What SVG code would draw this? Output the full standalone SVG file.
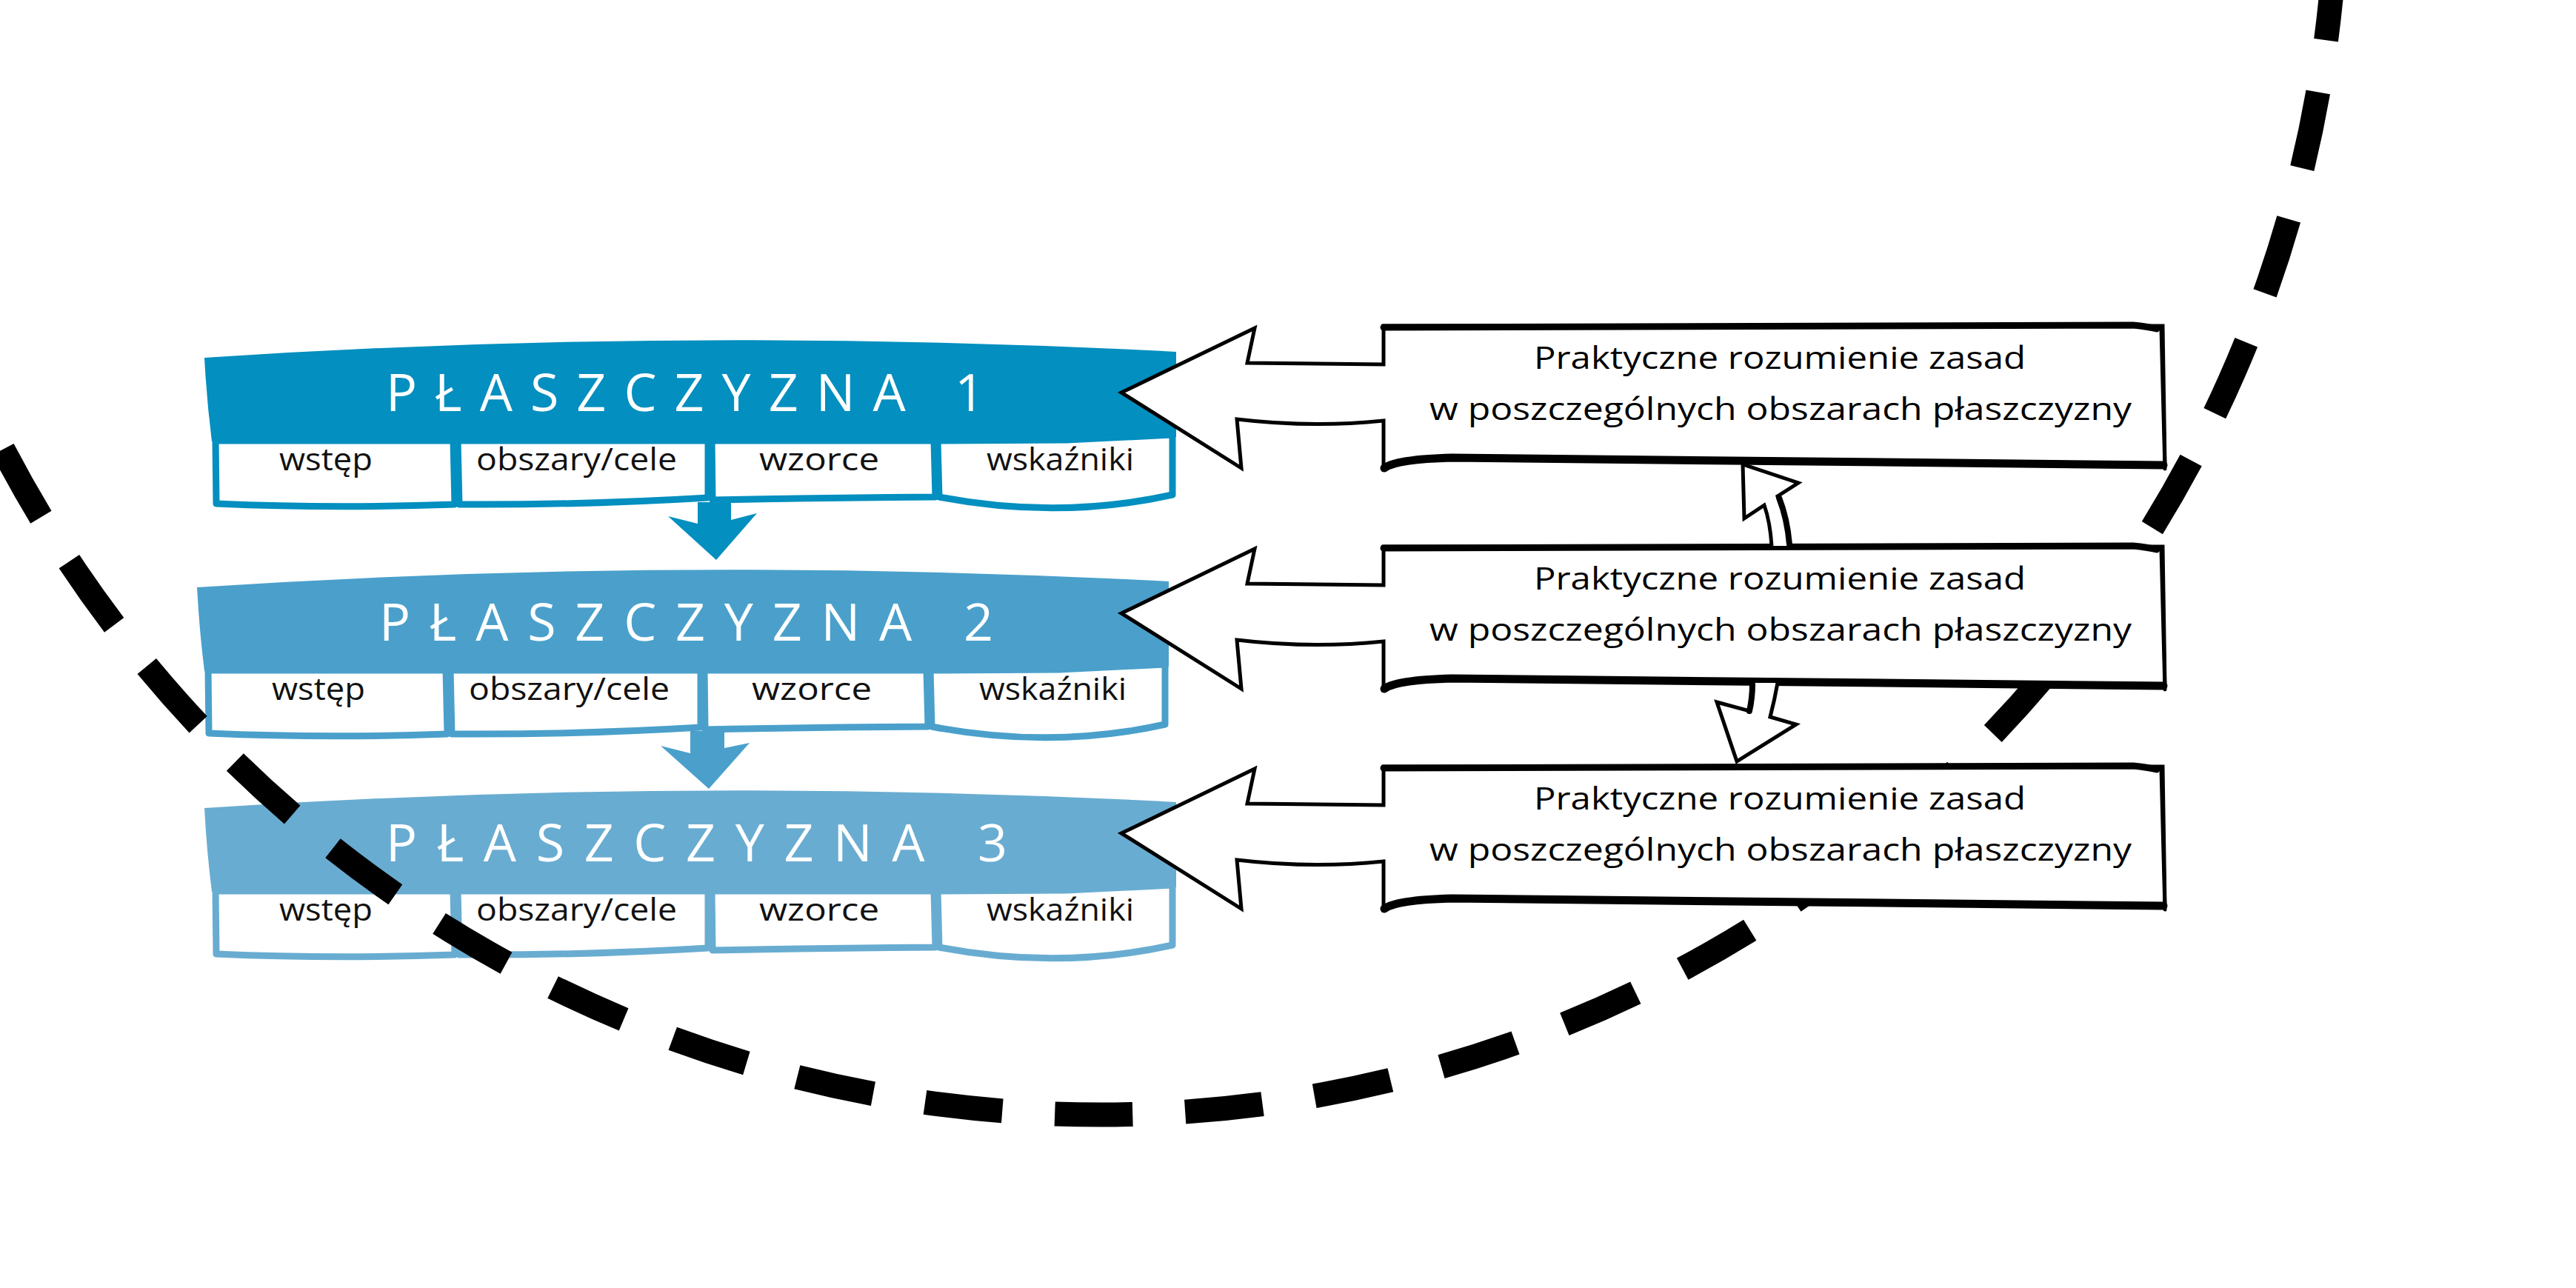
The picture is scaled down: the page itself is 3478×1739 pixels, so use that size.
<svg xmlns="http://www.w3.org/2000/svg" width="3478" height="1739" viewBox="0 0 3478 1739">
<style>
  .hdr-text{font-family:"Open Sans","Liberation Sans",sans-serif;font-size:70px;fill:#ffffff;}
  .tab-text{font-family:"Open Sans","Liberation Sans",sans-serif;font-size:42px;fill:#111111;text-anchor:start;}
  .tab{fill:#ffffff;stroke-width:9;stroke-linejoin:round;}
  .c1{fill:#038fbf;} .s1{stroke:#038fbf;}
  .c2{fill:#4aa0cb;} .s2{stroke:#4aa0cb;}
  .c3{fill:#69acd1;} .s3{stroke:#69acd1;}
  .callout{fill:#ffffff;stroke:#000000;stroke-width:5;stroke-linejoin:miter;}
  .heavy{fill:none;stroke:#000000;stroke-linecap:round;}
  .co-text{font-family:"Open Sans","Liberation Sans",sans-serif;font-size:42px;fill:#000000;}
  .cycle{fill:none;stroke:#000000;stroke-width:33;stroke-dasharray:105 71;stroke-dashoffset:132.7;}
  .outline-arrow{fill:#ffffff;stroke:#000000;stroke-width:5;stroke-linejoin:miter;}
</style>
<defs>
  <g id="tabs-shape">
    <path d="M291,595 L612,595 L614,681 Q450,687 292,680 Z"/>
    <path d="M618,595 L956,595 L956,672 Q790,682 620,681 Z"/>
    <path d="M961,595 L1261,595 L1263,671 Q1110,672 962,675 Z"/>
    <path d="M1266,595 L1440,594 L1583,587 L1583,668 Q1430,702 1268,671 Z"/>
  </g>
  <g id="callout-shape">
    <path class="callout" d="M1868,440 L2920,440 L2923,628 L1960,617 Q1885,619 1868,632 L1868,568 Q1770,578 1670,566 L1676,632 L1514,530 L1694,443 L1684,490 L1868,492 Z"/>
    <path class="heavy" stroke-width="9" d="M1868,442 L2880,439 Q2900,441 2912,444"/>
    <path class="heavy" stroke-width="11" d="M1869,632 Q1885,620 1960,618 L2921,628"/>
    <path class="heavy" stroke-width="5" d="M2918,443 L2923,633"/>
  </g>
</defs>

<!-- Panel 1 -->
<g id="panel1">
  <path class="c1" d="M276,483 Q930,440 1588,475 L1588,590 L1440,594 L286,596 Q279,540 276,483 Z"/>
  <use href="#tabs-shape" class="tab s1"/>
  <text class="hdr-text" x="521" y="555" textLength="808" lengthAdjust="spacing">PŁASZCZYZNA 1</text>
  <text class="tab-text" x="377" y="635" textLength="126" lengthAdjust="spacingAndGlyphs">wstęp</text>
  <text class="tab-text" x="643" y="635" textLength="271" lengthAdjust="spacingAndGlyphs">obszary/cele</text>
  <text class="tab-text" x="1025" y="635" textLength="162" lengthAdjust="spacingAndGlyphs">wzorce</text>
  <text class="tab-text" x="1332" y="635" textLength="199" lengthAdjust="spacingAndGlyphs">wskaźniki</text>
</g>

<!-- Panel 2 -->
<g id="panel2" transform="translate(-10,310)">
  <path class="c2" d="M276,483 Q930,440 1588,475 L1588,590 L1440,594 L286,596 Q279,540 276,483 Z"/>
  <use href="#tabs-shape" class="tab s2"/>
  <text class="hdr-text" x="522" y="555" textLength="829" lengthAdjust="spacing">PŁASZCZYZNA 2</text>
  <text class="tab-text" x="377" y="635" textLength="126" lengthAdjust="spacingAndGlyphs">wstęp</text>
  <text class="tab-text" x="643" y="635" textLength="271" lengthAdjust="spacingAndGlyphs">obszary/cele</text>
  <text class="tab-text" x="1025" y="635" textLength="162" lengthAdjust="spacingAndGlyphs">wzorce</text>
  <text class="tab-text" x="1332" y="635" textLength="199" lengthAdjust="spacingAndGlyphs">wskaźniki</text>
</g>

<!-- Panel 3 -->
<g id="panel3" transform="translate(0,608)">
  <path class="c3" d="M276,483 Q930,440 1588,475 L1588,590 L1440,594 L286,596 Q279,540 276,483 Z"/>
  <use href="#tabs-shape" class="tab s3"/>
  <text class="hdr-text" x="521" y="555" textLength="839" lengthAdjust="spacing">PŁASZCZYZNA 3</text>
  <text class="tab-text" x="377" y="635" textLength="126" lengthAdjust="spacingAndGlyphs">wstęp</text>
  <text class="tab-text" x="643" y="635" textLength="271" lengthAdjust="spacingAndGlyphs">obszary/cele</text>
  <text class="tab-text" x="1025" y="635" textLength="162" lengthAdjust="spacingAndGlyphs">wzorce</text>
  <text class="tab-text" x="1332" y="635" textLength="199" lengthAdjust="spacingAndGlyphs">wskaźniki</text>
</g>

<!-- Dashed cycle arc -->
<g id="cycle">
  <path class="cycle" d="M-84.3,406.2 A1670,1670 0 0 0 3155,-165"/>
</g>

<!-- Callout 1 -->
<g id="callout1">
  <use href="#callout-shape"/>
  <text class="co-text" x="2071" y="498" textLength="664" lengthAdjust="spacingAndGlyphs">Praktyczne rozumienie zasad</text>
  <text class="co-text" x="1930" y="567" textLength="948" lengthAdjust="spacingAndGlyphs">w poszczególnych obszarach płaszczyzny</text>
</g>

<!-- Callout 2 -->
<g id="callout2" transform="translate(0,298)">
  <use href="#callout-shape"/>
  <text class="co-text" x="2071" y="498" textLength="664" lengthAdjust="spacingAndGlyphs">Praktyczne rozumienie zasad</text>
  <text class="co-text" x="1930" y="567" textLength="948" lengthAdjust="spacingAndGlyphs">w poszczególnych obszarach płaszczyzny</text>
</g>

<!-- Callout 3 -->
<g id="callout3" transform="translate(0,595)">
  <use href="#callout-shape"/>
  <text class="co-text" x="2071" y="498" textLength="664" lengthAdjust="spacingAndGlyphs">Praktyczne rozumienie zasad</text>
  <text class="co-text" x="1930" y="567" textLength="948" lengthAdjust="spacingAndGlyphs">w poszczególnych obszarach płaszczyzny</text>
</g>

<!-- Connectors -->
<g id="connectors">
  <path class="c1" d="M942,678 L987,678 L987,702 L1022,693 L967,756 L902,697 L942,707 Z"/>
  <path class="c2" d="M932,987 L978,987 L978,1010 L1012,1003 L957,1065 L892,1007 L932,1017 Z"/>
  <path class="outline-arrow" d="M2392,737 Q2390,705 2382,682 L2355,700 L2353,627 L2428,652 L2400,670 Q2412,700 2417,737"/>
  <path class="heavy" stroke-width="8" d="M2402,672 Q2413,700 2416,735"/>
  <path class="outline-arrow" d="M2365,922 Q2366,940 2362,960 L2318,948 L2345,1028 L2425,978 L2390,968 Q2396,945 2400,922"/>
  <path class="heavy" stroke-width="8" d="M2366,924 Q2366,942 2362,960"/>
</g>
</svg>
